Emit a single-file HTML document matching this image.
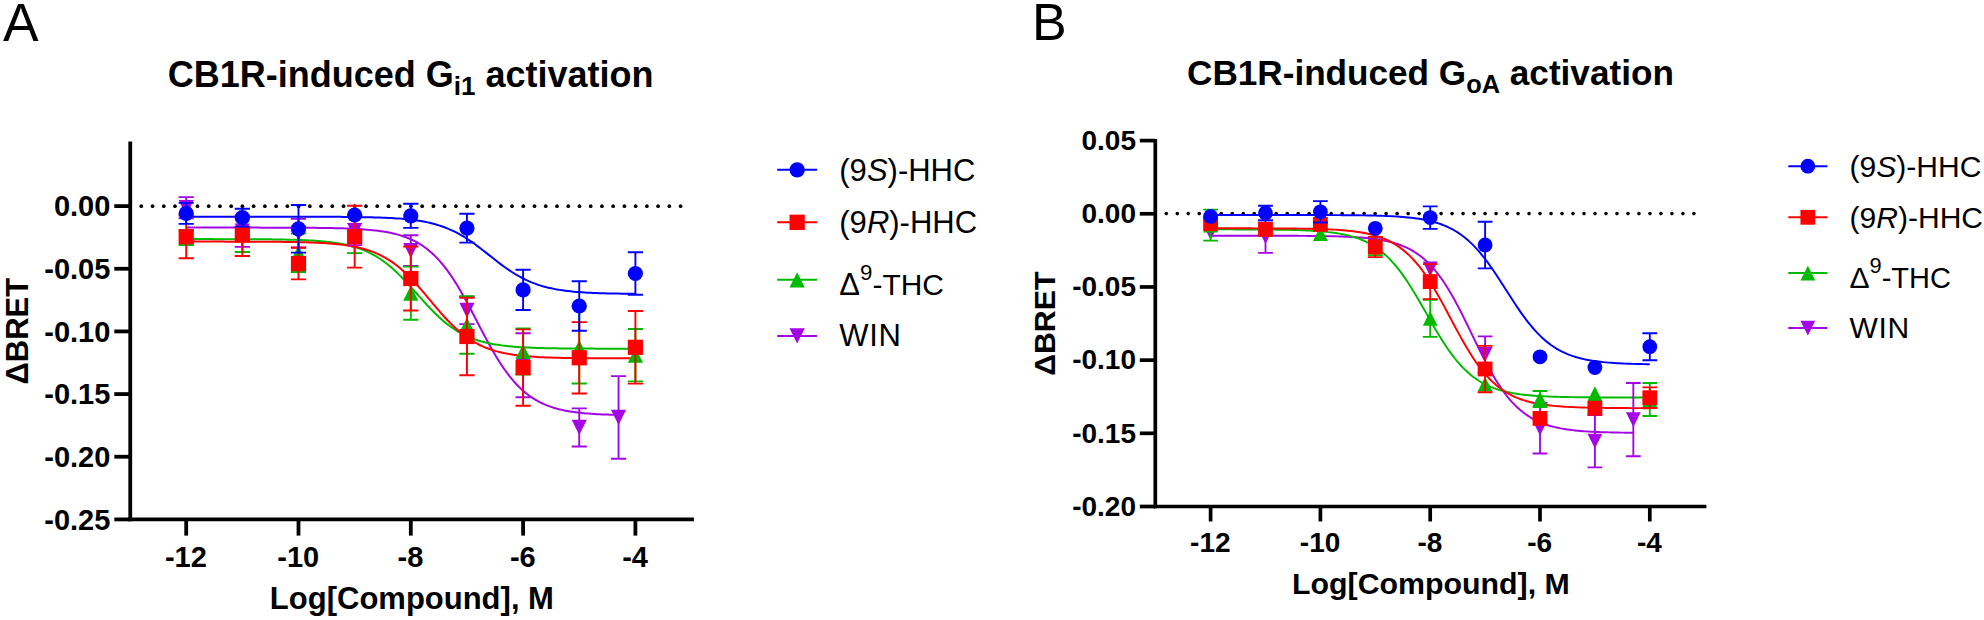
<!DOCTYPE html>
<html lang="en"><head><meta charset="utf-8"><title>CB1R-induced G protein activation</title>
<style>html,body{margin:0;padding:0;background:#fff}svg{display:block}text{font-family:'Liberation Sans', sans-serif;fill:#000}</style>
</head><body>
<svg width="1984" height="620" viewBox="0 0 1984 620">
<rect width="1984" height="620" fill="#fff"/>
<g fill="#000">
<circle cx="141.3" cy="206.15" r="1.85"/>
<circle cx="152.54" cy="206.15" r="1.85"/>
<circle cx="163.77" cy="206.15" r="1.85"/>
<circle cx="175" cy="206.15" r="1.85"/>
<circle cx="186.24" cy="206.15" r="1.85"/>
<circle cx="197.48" cy="206.15" r="1.85"/>
<circle cx="208.71" cy="206.15" r="1.85"/>
<circle cx="219.94" cy="206.15" r="1.85"/>
<circle cx="231.18" cy="206.15" r="1.85"/>
<circle cx="242.42" cy="206.15" r="1.85"/>
<circle cx="253.65" cy="206.15" r="1.85"/>
<circle cx="264.88" cy="206.15" r="1.85"/>
<circle cx="276.12" cy="206.15" r="1.85"/>
<circle cx="287.36" cy="206.15" r="1.85"/>
<circle cx="298.59" cy="206.15" r="1.85"/>
<circle cx="309.82" cy="206.15" r="1.85"/>
<circle cx="321.06" cy="206.15" r="1.85"/>
<circle cx="332.3" cy="206.15" r="1.85"/>
<circle cx="343.53" cy="206.15" r="1.85"/>
<circle cx="354.76" cy="206.15" r="1.85"/>
<circle cx="366" cy="206.15" r="1.85"/>
<circle cx="377.24" cy="206.15" r="1.85"/>
<circle cx="388.47" cy="206.15" r="1.85"/>
<circle cx="399.7" cy="206.15" r="1.85"/>
<circle cx="410.94" cy="206.15" r="1.85"/>
<circle cx="422.18" cy="206.15" r="1.85"/>
<circle cx="433.41" cy="206.15" r="1.85"/>
<circle cx="444.64" cy="206.15" r="1.85"/>
<circle cx="455.88" cy="206.15" r="1.85"/>
<circle cx="467.12" cy="206.15" r="1.85"/>
<circle cx="478.35" cy="206.15" r="1.85"/>
<circle cx="489.58" cy="206.15" r="1.85"/>
<circle cx="500.82" cy="206.15" r="1.85"/>
<circle cx="512.06" cy="206.15" r="1.85"/>
<circle cx="523.29" cy="206.15" r="1.85"/>
<circle cx="534.52" cy="206.15" r="1.85"/>
<circle cx="545.76" cy="206.15" r="1.85"/>
<circle cx="557" cy="206.15" r="1.85"/>
<circle cx="568.23" cy="206.15" r="1.85"/>
<circle cx="579.46" cy="206.15" r="1.85"/>
<circle cx="590.7" cy="206.15" r="1.85"/>
<circle cx="601.93" cy="206.15" r="1.85"/>
<circle cx="613.17" cy="206.15" r="1.85"/>
<circle cx="624.4" cy="206.15" r="1.85"/>
<circle cx="635.64" cy="206.15" r="1.85"/>
<circle cx="646.88" cy="206.15" r="1.85"/>
<circle cx="658.11" cy="206.15" r="1.85"/>
<circle cx="669.35" cy="206.15" r="1.85"/>
<circle cx="680.58" cy="206.15" r="1.85"/>
</g>
<polyline fill="none" stroke="#a305e4" stroke-width="2" stroke-linejoin="round" points="186.2,227.6 188.9,227.6 191.6,227.6 194.31,227.6 197.01,227.6 199.71,227.6 202.41,227.6 205.12,227.6 207.82,227.6 210.52,227.6 213.22,227.6 215.92,227.6 218.63,227.6 221.33,227.61 224.03,227.61 226.73,227.61 229.44,227.61 232.14,227.61 234.84,227.61 237.54,227.61 240.24,227.61 242.95,227.61 245.65,227.61 248.35,227.62 251.05,227.62 253.76,227.62 256.46,227.62 259.16,227.62 261.86,227.63 264.56,227.63 267.27,227.63 269.97,227.64 272.67,227.64 275.37,227.65 278.08,227.65 280.78,227.66 283.48,227.67 286.18,227.67 288.88,227.68 291.59,227.69 294.29,227.7 296.99,227.72 299.69,227.73 302.4,227.75 305.1,227.76 307.8,227.78 310.5,227.8 313.2,227.83 315.91,227.85 318.61,227.88 321.31,227.92 324.01,227.95 326.72,227.99 329.42,228.04 332.12,228.09 334.82,228.15 337.52,228.21 340.23,228.28 342.93,228.36 345.63,228.45 348.33,228.55 351.04,228.66 353.74,228.79 356.44,228.93 359.14,229.08 361.84,229.25 364.55,229.44 367.25,229.66 369.95,229.9 372.65,230.16 375.36,230.46 378.06,230.79 380.76,231.15 383.46,231.56 386.16,232.01 388.87,232.52 391.57,233.08 394.27,233.7 396.97,234.39 399.68,235.15 402.38,236 405.08,236.93 407.78,237.96 410.48,239.1 413.19,240.36 415.89,241.74 418.59,243.26 421.29,244.93 424,246.75 426.7,248.74 429.4,250.92 432.1,253.27 434.8,255.83 437.51,258.59 440.21,261.57 442.91,264.76 445.61,268.18 448.32,271.81 451.02,275.67 453.72,279.74 456.42,284.01 459.12,288.48 461.83,293.13 464.53,297.93 467.23,302.87 469.93,307.92 472.64,313.06 475.34,318.24 478.04,323.44 480.74,328.63 483.44,333.78 486.15,338.86 488.85,343.83 491.55,348.68 494.25,353.37 496.96,357.89 499.66,362.22 502.36,366.34 505.06,370.26 507.76,373.95 510.47,377.43 513.17,380.68 515.87,383.72 518.57,386.54 521.28,389.15 523.98,391.56 526.68,393.78 529.38,395.82 532.08,397.69 534.79,399.4 537.49,400.96 540.19,402.37 542.89,403.66 545.6,404.84 548.3,405.9 551,406.86 553.7,407.73 556.4,408.51 559.11,409.22 561.81,409.86 564.51,410.44 567.21,410.95 569.92,411.42 572.62,411.84 575.32,412.22 578.02,412.56 580.72,412.86 583.43,413.13 586.13,413.38 588.83,413.6 591.53,413.8 594.24,413.97 596.94,414.13 599.64,414.28 602.34,414.4 605.04,414.52 607.75,414.62 610.45,414.71 613.15,414.79 615.85,414.87 618.55,414.93"/>
<polyline fill="none" stroke="#00ba00" stroke-width="2" stroke-linejoin="round" points="186.2,239.11 189.01,239.11 191.81,239.11 194.62,239.11 197.43,239.11 200.24,239.12 203.05,239.12 205.85,239.12 208.66,239.12 211.47,239.12 214.28,239.13 217.08,239.13 219.89,239.13 222.7,239.14 225.5,239.14 228.31,239.15 231.12,239.15 233.93,239.16 236.74,239.17 239.54,239.18 242.35,239.19 245.16,239.2 247.96,239.21 250.77,239.22 253.58,239.23 256.39,239.25 259.2,239.27 262,239.29 264.81,239.31 267.62,239.34 270.43,239.37 273.23,239.4 276.04,239.44 278.85,239.48 281.65,239.52 284.46,239.58 287.27,239.63 290.08,239.7 292.88,239.77 295.69,239.85 298.5,239.94 301.31,240.05 304.12,240.16 306.92,240.29 309.73,240.43 312.54,240.59 315.35,240.77 318.15,240.97 320.96,241.2 323.77,241.45 326.58,241.73 329.38,242.04 332.19,242.39 335,242.77 337.8,243.2 340.61,243.68 343.42,244.22 346.23,244.81 349.04,245.47 351.84,246.19 354.65,246.99 357.46,247.88 360.26,248.86 363.07,249.93 365.88,251.11 368.69,252.39 371.5,253.8 374.3,255.33 377.11,256.98 379.92,258.77 382.73,260.7 385.53,262.77 388.34,264.97 391.15,267.32 393.95,269.8 396.76,272.4 399.57,275.13 402.38,277.97 405.19,280.9 407.99,283.92 410.8,287 413.61,290.12 416.41,293.27 419.22,296.42 422.03,299.56 424.84,302.66 427.64,305.7 430.45,308.67 433.26,311.55 436.07,314.32 438.88,316.98 441.68,319.51 444.49,321.9 447.3,324.17 450.11,326.29 452.91,328.27 455.72,330.12 458.53,331.83 461.34,333.41 464.14,334.86 466.95,336.19 469.76,337.41 472.56,338.53 475.37,339.54 478.18,340.46 480.99,341.3 483.8,342.05 486.6,342.74 489.41,343.35 492.22,343.91 495.02,344.41 497.83,344.86 500.64,345.26 503.45,345.63 506.25,345.95 509.06,346.25 511.87,346.51 514.68,346.74 517.49,346.95 520.29,347.14 523.1,347.31 525.91,347.46 528.71,347.59 531.52,347.71 534.33,347.82 537.14,347.91 539.94,348 542.75,348.07 545.56,348.14 548.37,348.2 551.17,348.26 553.98,348.3 556.79,348.35 559.6,348.38 562.4,348.42 565.21,348.45 568.02,348.48 570.83,348.5 573.63,348.52 576.44,348.54 579.25,348.56 582.06,348.57 584.87,348.59 587.67,348.6 590.48,348.61 593.29,348.62 596.1,348.63 598.9,348.64 601.71,348.64 604.52,348.65 607.33,348.66 610.13,348.66 612.94,348.66 615.75,348.67 618.55,348.67 621.36,348.67 624.17,348.68 626.98,348.68 629.79,348.68 632.59,348.68 635.4,348.69"/>
<polyline fill="none" stroke="#ff0000" stroke-width="2" stroke-linejoin="round" points="186.2,241.61 189.01,241.61 191.81,241.61 194.62,241.61 197.43,241.61 200.24,241.61 203.05,241.61 205.85,241.61 208.66,241.61 211.47,241.62 214.28,241.62 217.08,241.62 219.89,241.62 222.7,241.62 225.5,241.63 228.31,241.63 231.12,241.63 233.93,241.64 236.74,241.64 239.54,241.65 242.35,241.65 245.16,241.66 247.96,241.67 250.77,241.68 253.58,241.68 256.39,241.69 259.2,241.71 262,241.72 264.81,241.73 267.62,241.75 270.43,241.77 273.23,241.79 276.04,241.81 278.85,241.84 281.65,241.87 284.46,241.9 287.27,241.94 290.08,241.98 292.88,242.02 295.69,242.07 298.5,242.13 301.31,242.2 304.12,242.27 306.92,242.35 309.73,242.44 312.54,242.54 315.35,242.66 318.15,242.78 320.96,242.93 323.77,243.09 326.58,243.26 329.38,243.46 332.19,243.69 335,243.94 337.8,244.22 340.61,244.53 343.42,244.87 346.23,245.26 349.04,245.69 351.84,246.17 354.65,246.71 357.46,247.3 360.26,247.96 363.07,248.68 365.88,249.49 368.69,250.38 371.5,251.36 374.3,252.44 377.11,253.63 379.92,254.93 382.73,256.35 385.53,257.9 388.34,259.58 391.15,261.4 393.95,263.37 396.76,265.48 399.57,267.75 402.38,270.16 405.19,272.71 407.99,275.41 410.8,278.24 413.61,281.2 416.41,284.26 419.22,287.43 422.03,290.67 424.84,293.97 427.64,297.31 430.45,300.67 433.26,304.03 436.07,307.36 438.88,310.64 441.68,313.85 444.49,316.98 447.3,320 450.11,322.91 452.91,325.69 455.72,328.33 458.53,330.83 461.34,333.18 464.14,335.38 466.95,337.43 469.76,339.34 472.56,341.11 475.37,342.74 478.18,344.23 480.99,345.6 483.8,346.86 486.6,348 489.41,349.04 492.22,349.99 495.02,350.84 497.83,351.62 500.64,352.32 503.45,352.95 506.25,353.51 509.06,354.03 511.87,354.49 514.68,354.9 517.49,355.27 520.29,355.6 523.1,355.9 525.91,356.17 528.71,356.4 531.52,356.62 534.33,356.81 537.14,356.98 539.94,357.13 542.75,357.27 545.56,357.39 548.37,357.5 551.17,357.6 553.98,357.68 556.79,357.76 559.6,357.83 562.4,357.89 565.21,357.95 568.02,358 570.83,358.04 573.63,358.08 576.44,358.11 579.25,358.15 582.06,358.17 584.87,358.2 587.67,358.22 590.48,358.24 593.29,358.26 596.1,358.27 598.9,358.29 601.71,358.3 604.52,358.31 607.33,358.32 610.13,358.33 612.94,358.34 615.75,358.34 618.55,358.35 621.36,358.35 624.17,358.36 626.98,358.36 629.79,358.37 632.59,358.37 635.4,358.37"/>
<polyline fill="none" stroke="#0000ff" stroke-width="2" stroke-linejoin="round" points="186.2,216.7 189.01,216.7 191.81,216.7 194.62,216.7 197.43,216.7 200.24,216.7 203.05,216.7 205.85,216.7 208.66,216.7 211.47,216.7 214.28,216.7 217.08,216.7 219.89,216.7 222.7,216.7 225.5,216.7 228.31,216.7 231.12,216.7 233.93,216.7 236.74,216.7 239.54,216.7 242.35,216.7 245.16,216.7 247.96,216.7 250.77,216.7 253.58,216.7 256.39,216.71 259.2,216.71 262,216.71 264.81,216.71 267.62,216.71 270.43,216.71 273.23,216.71 276.04,216.71 278.85,216.71 281.65,216.72 284.46,216.72 287.27,216.72 290.08,216.72 292.88,216.72 295.69,216.73 298.5,216.73 301.31,216.73 304.12,216.74 306.92,216.74 309.73,216.75 312.54,216.75 315.35,216.76 318.15,216.77 320.96,216.78 323.77,216.79 326.58,216.8 329.38,216.81 332.19,216.82 335,216.84 337.8,216.85 340.61,216.87 343.42,216.89 346.23,216.92 349.04,216.94 351.84,216.97 354.65,217.01 357.46,217.04 360.26,217.09 363.07,217.13 365.88,217.18 368.69,217.24 371.5,217.31 374.3,217.38 377.11,217.47 379.92,217.56 382.73,217.66 385.53,217.78 388.34,217.91 391.15,218.05 393.95,218.21 396.76,218.39 399.57,218.59 402.38,218.82 405.19,219.07 407.99,219.35 410.8,219.66 413.61,220.01 416.41,220.39 419.22,220.82 422.03,221.29 424.84,221.81 427.64,222.39 430.45,223.03 433.26,223.73 436.07,224.5 438.88,225.34 441.68,226.27 444.49,227.28 447.3,228.37 450.11,229.56 452.91,230.84 455.72,232.22 458.53,233.7 461.34,235.27 464.14,236.94 466.95,238.71 469.76,240.57 472.56,242.51 475.37,244.52 478.18,246.6 480.99,248.74 483.8,250.92 486.6,253.13 489.41,255.35 492.22,257.57 495.02,259.78 497.83,261.96 500.64,264.1 503.45,266.18 506.25,268.19 509.06,270.13 511.87,271.99 514.68,273.76 517.49,275.43 520.29,277 523.1,278.48 525.91,279.86 528.71,281.14 531.52,282.33 534.33,283.42 537.14,284.43 539.94,285.36 542.75,286.2 545.56,286.97 548.37,287.67 551.17,288.31 553.98,288.89 556.79,289.41 559.6,289.88 562.4,290.31 565.21,290.69 568.02,291.04 570.83,291.35 573.63,291.63 576.44,291.88 579.25,292.11 582.06,292.31 584.87,292.49 587.67,292.65 590.48,292.79 593.29,292.92 596.1,293.04 598.9,293.14 601.71,293.23 604.52,293.32 607.33,293.39 610.13,293.46 612.94,293.52 615.75,293.57 618.55,293.61 621.36,293.66 624.17,293.69 626.98,293.73 629.79,293.76 632.59,293.78 635.4,293.81"/>
<g stroke="#a305e4" stroke-width="1.9" fill="none">
<path d="M186.2 197.1V218.3M178.6 197.1H193.8M178.6 218.3H193.8"/>
<path d="M242.35 215.5V246.9M234.75 215.5H249.95M234.75 246.9H249.95"/>
<path d="M298.5 218.9V247.5M290.9 218.9H306.1M290.9 247.5H306.1"/>
<path d="M354.65 216.1V245.1M347.05 216.1H362.25M347.05 245.1H362.25"/>
<path d="M410.8 235.2V266M403.2 235.2H418.4M403.2 266H418.4"/>
<path d="M466.95 296.7V324.1M459.35 296.7H474.55M459.35 324.1H474.55"/>
<path d="M523.1 333.3V397.3M515.5 333.3H530.7M515.5 397.3H530.7"/>
<path d="M579.25 408.35V446.45M571.65 408.35H586.85M571.65 446.45H586.85"/>
<path d="M618.55 376.1V458.7M610.95 376.1H626.15M610.95 458.7H626.15"/>
</g>
<polygon points="178.6,200.1 193.8,200.1 186.2,215.3" fill="#a305e4"/>
<polygon points="234.75,223.6 249.95,223.6 242.35,238.8" fill="#a305e4"/>
<polygon points="290.9,225.6 306.1,225.6 298.5,240.8" fill="#a305e4"/>
<polygon points="347.05,223 362.25,223 354.65,238.2" fill="#a305e4"/>
<polygon points="403.2,243 418.4,243 410.8,258.2" fill="#a305e4"/>
<polygon points="459.35,302.8 474.55,302.8 466.95,318" fill="#a305e4"/>
<polygon points="515.5,357.7 530.7,357.7 523.1,372.9" fill="#a305e4"/>
<polygon points="571.65,419.8 586.85,419.8 579.25,435" fill="#a305e4"/>
<polygon points="610.95,409.8 626.15,409.8 618.55,425" fill="#a305e4"/>
<g stroke="#00ba00" stroke-width="1.9" fill="none">
<path d="M186.2 230.3V245.1M178.6 230.3H193.8M178.6 245.1H193.8"/>
<path d="M242.35 216V252M234.75 216H249.95M234.75 252H249.95"/>
<path d="M298.5 233.6V272M290.9 233.6H306.1M290.9 272H306.1"/>
<path d="M354.65 215V253.1M347.05 215H362.25M347.05 253.1H362.25"/>
<path d="M410.8 266.6V319.8M403.2 266.6H418.4M403.2 319.8H418.4"/>
<path d="M466.95 296.2V353.8M459.35 296.2H474.55M459.35 353.8H474.55"/>
<path d="M523.1 328.5V374.5M515.5 328.5H530.7M515.5 374.5H530.7"/>
<path d="M579.25 306.5V383.5M571.65 306.5H586.85M571.65 383.5H586.85"/>
<path d="M635.4 329V381.4M627.8 329H643M627.8 381.4H643"/>
</g>
<polygon points="186.2,230.1 193.8,245.3 178.6,245.3" fill="#00ba00"/>
<polygon points="242.35,226.4 249.95,241.6 234.75,241.6" fill="#00ba00"/>
<polygon points="298.5,245.2 306.1,260.4 290.9,260.4" fill="#00ba00"/>
<polygon points="354.65,226.45 362.25,241.65 347.05,241.65" fill="#00ba00"/>
<polygon points="410.8,285.6 418.4,300.8 403.2,300.8" fill="#00ba00"/>
<polygon points="466.95,317.4 474.55,332.6 459.35,332.6" fill="#00ba00"/>
<polygon points="523.1,343.9 530.7,359.1 515.5,359.1" fill="#00ba00"/>
<polygon points="579.25,339.9 586.85,355.1 571.65,355.1" fill="#00ba00"/>
<polygon points="635.4,347.6 643,362.8 627.8,362.8" fill="#00ba00"/>
<g stroke="#ff0000" stroke-width="1.9" fill="none">
<path d="M186.2 215.2V258.2M178.6 215.2H193.8M178.6 258.2H193.8"/>
<path d="M242.35 217.7V256M234.75 217.7H249.95M234.75 256H249.95"/>
<path d="M298.5 247.8V279.4M290.9 247.8H306.1M290.9 279.4H306.1"/>
<path d="M354.65 205.8V267.6M347.05 205.8H362.25M347.05 267.6H362.25"/>
<path d="M410.8 246.5V310.5M403.2 246.5H418.4M403.2 310.5H418.4"/>
<path d="M466.95 297.8V375.2M459.35 297.8H474.55M459.35 375.2H474.55"/>
<path d="M523.1 329.4V405.8M515.5 329.4H530.7M515.5 405.8H530.7"/>
<path d="M579.25 322.1V393.5M571.65 322.1H586.85M571.65 393.5H586.85"/>
<path d="M635.4 311V383.6M627.8 311H643M627.8 383.6H643"/>
</g>
<rect x="178.6" y="229.1" width="15.2" height="15.2" fill="#ff0000"/>
<rect x="234.75" y="227.3" width="15.2" height="15.2" fill="#ff0000"/>
<rect x="290.9" y="256" width="15.2" height="15.2" fill="#ff0000"/>
<rect x="347.05" y="229.1" width="15.2" height="15.2" fill="#ff0000"/>
<rect x="403.2" y="270.9" width="15.2" height="15.2" fill="#ff0000"/>
<rect x="459.35" y="328.9" width="15.2" height="15.2" fill="#ff0000"/>
<rect x="515.5" y="360" width="15.2" height="15.2" fill="#ff0000"/>
<rect x="571.65" y="350.2" width="15.2" height="15.2" fill="#ff0000"/>
<rect x="627.8" y="339.7" width="15.2" height="15.2" fill="#ff0000"/>
<g stroke="#0000ff" stroke-width="1.9" fill="none">
<path d="M186.2 202.9V223.9M178.6 202.9H193.8M178.6 223.9H193.8"/>
<path d="M242.35 208.8V226.6M234.75 208.8H249.95M234.75 226.6H249.95"/>
<path d="M298.5 205V252.6M290.9 205H306.1M290.9 252.6H306.1"/>
<path d="M410.8 203.7V227.9M403.2 203.7H418.4M403.2 227.9H418.4"/>
<path d="M466.95 213.8V242.6M459.35 213.8H474.55M459.35 242.6H474.55"/>
<path d="M523.1 269.8V310M515.5 269.8H530.7M515.5 310H530.7"/>
<path d="M579.25 281.2V330.8M571.65 281.2H586.85M571.65 330.8H586.85"/>
<path d="M635.4 252.2V294.8M627.8 252.2H643M627.8 294.8H643"/>
</g>
<circle cx="186.2" cy="213.4" r="7.6" fill="#0000ff"/>
<circle cx="242.35" cy="217.7" r="7.6" fill="#0000ff"/>
<circle cx="298.5" cy="228.8" r="7.6" fill="#0000ff"/>
<circle cx="354.65" cy="215" r="7.6" fill="#0000ff"/>
<circle cx="410.8" cy="215.8" r="7.6" fill="#0000ff"/>
<circle cx="466.95" cy="228.2" r="7.6" fill="#0000ff"/>
<circle cx="523.1" cy="289.9" r="7.6" fill="#0000ff"/>
<circle cx="579.25" cy="306" r="7.6" fill="#0000ff"/>
<circle cx="635.4" cy="273.5" r="7.6" fill="#0000ff"/>
<g stroke="#000" stroke-width="3.8" fill="none" stroke-linecap="butt">
<path d="M130.25 141.4V521.3"/>
<path d="M128.35 519.4H693.9"/>
<path d="M114.3 206.1H130.25"/>
<path d="M114.3 268.76H130.25"/>
<path d="M114.3 331.42H130.25"/>
<path d="M114.3 394.08H130.25"/>
<path d="M114.3 456.74H130.25"/>
<path d="M114.3 519.4H130.25"/>
<path d="M186.2 519.4V535.6"/>
<path d="M298.5 519.4V535.6"/>
<path d="M410.8 519.4V535.6"/>
<path d="M523.1 519.4V535.6"/>
<path d="M635.4 519.4V535.6"/>
</g>
<g fill="#000">
<circle cx="1166.3" cy="213.6" r="1.8"/>
<circle cx="1177.29" cy="213.6" r="1.8"/>
<circle cx="1188.28" cy="213.6" r="1.8"/>
<circle cx="1199.28" cy="213.6" r="1.8"/>
<circle cx="1210.27" cy="213.6" r="1.8"/>
<circle cx="1221.26" cy="213.6" r="1.8"/>
<circle cx="1232.25" cy="213.6" r="1.8"/>
<circle cx="1243.24" cy="213.6" r="1.8"/>
<circle cx="1254.24" cy="213.6" r="1.8"/>
<circle cx="1265.23" cy="213.6" r="1.8"/>
<circle cx="1276.22" cy="213.6" r="1.8"/>
<circle cx="1287.21" cy="213.6" r="1.8"/>
<circle cx="1298.2" cy="213.6" r="1.8"/>
<circle cx="1309.2" cy="213.6" r="1.8"/>
<circle cx="1320.19" cy="213.6" r="1.8"/>
<circle cx="1331.18" cy="213.6" r="1.8"/>
<circle cx="1342.17" cy="213.6" r="1.8"/>
<circle cx="1353.16" cy="213.6" r="1.8"/>
<circle cx="1364.16" cy="213.6" r="1.8"/>
<circle cx="1375.15" cy="213.6" r="1.8"/>
<circle cx="1386.14" cy="213.6" r="1.8"/>
<circle cx="1397.13" cy="213.6" r="1.8"/>
<circle cx="1408.12" cy="213.6" r="1.8"/>
<circle cx="1419.12" cy="213.6" r="1.8"/>
<circle cx="1430.11" cy="213.6" r="1.8"/>
<circle cx="1441.1" cy="213.6" r="1.8"/>
<circle cx="1452.09" cy="213.6" r="1.8"/>
<circle cx="1463.08" cy="213.6" r="1.8"/>
<circle cx="1474.08" cy="213.6" r="1.8"/>
<circle cx="1485.07" cy="213.6" r="1.8"/>
<circle cx="1496.06" cy="213.6" r="1.8"/>
<circle cx="1507.05" cy="213.6" r="1.8"/>
<circle cx="1518.04" cy="213.6" r="1.8"/>
<circle cx="1529.04" cy="213.6" r="1.8"/>
<circle cx="1540.03" cy="213.6" r="1.8"/>
<circle cx="1551.02" cy="213.6" r="1.8"/>
<circle cx="1562.01" cy="213.6" r="1.8"/>
<circle cx="1573" cy="213.6" r="1.8"/>
<circle cx="1584" cy="213.6" r="1.8"/>
<circle cx="1594.99" cy="213.6" r="1.8"/>
<circle cx="1605.98" cy="213.6" r="1.8"/>
<circle cx="1616.97" cy="213.6" r="1.8"/>
<circle cx="1627.96" cy="213.6" r="1.8"/>
<circle cx="1638.96" cy="213.6" r="1.8"/>
<circle cx="1649.95" cy="213.6" r="1.8"/>
<circle cx="1660.94" cy="213.6" r="1.8"/>
<circle cx="1671.93" cy="213.6" r="1.8"/>
<circle cx="1682.92" cy="213.6" r="1.8"/>
<circle cx="1693.92" cy="213.6" r="1.8"/>
</g>
<polyline fill="none" stroke="#a305e4" stroke-width="1.95" stroke-linejoin="round" points="1210.6,235.7 1213.24,235.7 1215.88,235.7 1218.53,235.7 1221.17,235.71 1223.81,235.71 1226.45,235.71 1229.09,235.71 1231.74,235.71 1234.38,235.71 1237.02,235.71 1239.66,235.71 1242.3,235.71 1244.95,235.71 1247.59,235.72 1250.23,235.72 1252.87,235.72 1255.52,235.72 1258.16,235.73 1260.8,235.73 1263.44,235.73 1266.08,235.74 1268.73,235.74 1271.37,235.74 1274.01,235.75 1276.65,235.75 1279.29,235.76 1281.94,235.77 1284.58,235.78 1287.22,235.79 1289.86,235.8 1292.5,235.81 1295.15,235.82 1297.79,235.83 1300.43,235.85 1303.07,235.87 1305.71,235.89 1308.36,235.91 1311,235.93 1313.64,235.96 1316.28,235.99 1318.92,236.02 1321.57,236.06 1324.21,236.1 1326.85,236.15 1329.49,236.2 1332.13,236.26 1334.78,236.32 1337.42,236.4 1340.06,236.48 1342.7,236.57 1345.35,236.67 1347.99,236.78 1350.63,236.91 1353.27,237.05 1355.91,237.21 1358.56,237.38 1361.2,237.58 1363.84,237.8 1366.48,238.04 1369.12,238.31 1371.77,238.61 1374.41,238.95 1377.05,239.32 1379.69,239.74 1382.33,240.2 1384.98,240.71 1387.62,241.29 1390.26,241.92 1392.9,242.62 1395.54,243.4 1398.19,244.27 1400.83,245.22 1403.47,246.28 1406.11,247.44 1408.75,248.73 1411.4,250.14 1414.04,251.7 1416.68,253.4 1419.32,255.27 1421.97,257.31 1424.61,259.54 1427.25,261.96 1429.89,264.59 1432.53,267.43 1435.18,270.49 1437.82,273.78 1440.46,277.31 1443.1,281.06 1445.74,285.05 1448.39,289.26 1451.03,293.69 1453.67,298.33 1456.31,303.16 1458.95,308.16 1461.6,313.31 1464.24,318.59 1466.88,323.95 1469.52,329.39 1472.16,334.85 1474.81,340.31 1477.45,345.73 1480.09,351.08 1482.73,356.33 1485.37,361.46 1488.02,366.43 1490.66,371.23 1493.3,375.83 1495.94,380.22 1498.58,384.4 1501.23,388.34 1503.87,392.05 1506.51,395.53 1509.15,398.78 1511.8,401.8 1514.44,404.6 1517.08,407.19 1519.72,409.58 1522.36,411.77 1525.01,413.78 1527.65,415.62 1530.29,417.3 1532.93,418.83 1535.57,420.22 1538.22,421.48 1540.86,422.62 1543.5,423.66 1546.14,424.6 1548.78,425.45 1551.43,426.21 1554.07,426.9 1556.71,427.52 1559.35,428.08 1561.99,428.59 1564.64,429.04 1567.28,429.45 1569.92,429.82 1572.56,430.14 1575.2,430.44 1577.85,430.71 1580.49,430.94 1583.13,431.16 1585.77,431.35 1588.41,431.52 1591.06,431.68 1593.7,431.81 1596.34,431.94 1598.98,432.05 1601.63,432.15 1604.27,432.24 1606.91,432.32 1609.55,432.39 1612.19,432.45 1614.84,432.51 1617.48,432.56 1620.12,432.61 1622.76,432.65 1625.4,432.68 1628.05,432.72 1630.69,432.75 1633.33,432.77"/>
<polyline fill="none" stroke="#00ba00" stroke-width="1.95" stroke-linejoin="round" points="1210.6,229.37 1213.35,229.37 1216.09,229.37 1218.84,229.38 1221.58,229.38 1224.33,229.39 1227.07,229.39 1229.82,229.39 1232.56,229.4 1235.31,229.41 1238.05,229.41 1240.8,229.42 1243.54,229.43 1246.29,229.44 1249.03,229.45 1251.78,229.46 1254.52,229.47 1257.27,229.49 1260.01,229.51 1262.76,229.53 1265.5,229.55 1268.25,229.57 1270.99,229.6 1273.74,229.63 1276.48,229.66 1279.23,229.7 1281.97,229.74 1284.72,229.79 1287.46,229.84 1290.2,229.9 1292.95,229.97 1295.7,230.05 1298.44,230.13 1301.18,230.23 1303.93,230.33 1306.67,230.45 1309.42,230.59 1312.16,230.74 1314.91,230.9 1317.65,231.09 1320.4,231.3 1323.14,231.54 1325.89,231.8 1328.63,232.1 1331.38,232.42 1334.12,232.79 1336.87,233.2 1339.62,233.66 1342.36,234.17 1345.11,234.74 1347.85,235.37 1350.6,236.08 1353.34,236.86 1356.09,237.73 1358.83,238.7 1361.58,239.77 1364.32,240.95 1367.07,242.26 1369.81,243.7 1372.56,245.29 1375.3,247.03 1378.05,248.93 1380.79,251.02 1383.54,253.28 1386.28,255.75 1389.03,258.41 1391.77,261.28 1394.52,264.37 1397.26,267.67 1400.01,271.18 1402.75,274.9 1405.5,278.82 1408.24,282.94 1410.99,287.22 1413.73,291.67 1416.47,296.25 1419.22,300.93 1421.97,305.7 1424.71,310.52 1427.45,315.36 1430.2,320.19 1432.95,324.97 1435.69,329.67 1438.43,334.28 1441.18,338.75 1443.92,343.07 1446.67,347.22 1449.41,351.18 1452.16,354.94 1454.9,358.5 1457.65,361.84 1460.39,364.97 1463.14,367.88 1465.88,370.59 1468.63,373.09 1471.38,375.4 1474.12,377.51 1476.87,379.45 1479.61,381.23 1482.36,382.84 1485.1,384.31 1487.85,385.64 1490.59,386.85 1493.34,387.94 1496.08,388.93 1498.83,389.82 1501.57,390.62 1504.32,391.34 1507.06,391.99 1509.81,392.57 1512.55,393.09 1515.3,393.56 1518.04,393.98 1520.79,394.36 1523.53,394.69 1526.28,394.99 1529.02,395.26 1531.77,395.5 1534.51,395.72 1537.26,395.91 1540,396.08 1542.74,396.23 1545.49,396.37 1548.24,396.49 1550.98,396.6 1553.72,396.7 1556.47,396.79 1559.22,396.86 1561.96,396.93 1564.7,396.99 1567.45,397.05 1570.2,397.1 1572.94,397.14 1575.68,397.18 1578.43,397.21 1581.17,397.25 1583.92,397.27 1586.66,397.3 1589.41,397.32 1592.15,397.34 1594.9,397.36 1597.64,397.37 1600.39,397.39 1603.13,397.4 1605.88,397.41 1608.62,397.42 1611.37,397.43 1614.12,397.44 1616.86,397.44 1619.61,397.45 1622.35,397.45 1625.1,397.46 1627.84,397.46 1630.59,397.47 1633.33,397.47 1636.08,397.47 1638.82,397.48 1641.57,397.48 1644.31,397.48 1647.06,397.48 1649.8,397.49"/>
<polyline fill="none" stroke="#ff0000" stroke-width="1.95" stroke-linejoin="round" points="1210.6,228.31 1213.35,228.31 1216.09,228.31 1218.84,228.31 1221.58,228.31 1224.33,228.31 1227.07,228.32 1229.82,228.32 1232.56,228.32 1235.31,228.32 1238.05,228.32 1240.8,228.33 1243.54,228.33 1246.29,228.33 1249.03,228.34 1251.78,228.34 1254.52,228.35 1257.27,228.35 1260.01,228.36 1262.76,228.37 1265.5,228.38 1268.25,228.39 1270.99,228.4 1273.74,228.41 1276.48,228.42 1279.23,228.44 1281.97,228.45 1284.72,228.47 1287.46,228.49 1290.2,228.52 1292.95,228.54 1295.7,228.57 1298.44,228.6 1301.18,228.64 1303.93,228.68 1306.67,228.73 1309.42,228.78 1312.16,228.84 1314.91,228.91 1317.65,228.98 1320.4,229.06 1323.14,229.16 1325.89,229.26 1328.63,229.38 1331.38,229.51 1334.12,229.65 1336.87,229.82 1339.62,230 1342.36,230.21 1345.11,230.44 1347.85,230.69 1350.6,230.98 1353.34,231.3 1356.09,231.66 1358.83,232.07 1361.58,232.51 1364.32,233.02 1367.07,233.57 1369.81,234.2 1372.56,234.89 1375.3,235.66 1378.05,236.52 1380.79,237.47 1383.54,238.52 1386.28,239.69 1389.03,240.98 1391.77,242.41 1394.52,243.98 1397.26,245.71 1400.01,247.61 1402.75,249.68 1405.5,251.95 1408.24,254.42 1410.99,257.09 1413.73,259.99 1416.47,263.11 1419.22,266.45 1421.97,270.03 1424.71,273.83 1427.45,277.86 1430.2,282.09 1432.95,286.53 1435.69,291.16 1438.43,295.94 1441.18,300.87 1443.92,305.9 1446.67,311.02 1449.41,316.18 1452.16,321.36 1454.9,326.51 1457.65,331.61 1460.39,336.63 1463.14,341.53 1465.88,346.28 1468.63,350.87 1471.38,355.27 1474.12,359.47 1476.87,363.45 1479.61,367.21 1482.36,370.74 1485.1,374.04 1487.85,377.11 1490.59,379.96 1493.34,382.59 1496.08,385.02 1498.83,387.25 1501.57,389.29 1504.32,391.15 1507.06,392.84 1509.81,394.39 1512.55,395.78 1515.3,397.05 1518.04,398.2 1520.79,399.23 1523.53,400.16 1526.28,401 1529.02,401.76 1531.77,402.43 1534.51,403.04 1537.26,403.59 1540,404.08 1542.74,404.52 1545.49,404.91 1548.24,405.26 1550.98,405.58 1553.72,405.86 1556.47,406.11 1559.22,406.34 1561.96,406.54 1564.7,406.72 1567.45,406.88 1570.2,407.02 1572.94,407.15 1575.68,407.26 1578.43,407.36 1581.17,407.45 1583.92,407.53 1586.66,407.61 1589.41,407.67 1592.15,407.73 1594.9,407.78 1597.64,407.82 1600.39,407.87 1603.13,407.9 1605.88,407.93 1608.62,407.96 1611.37,407.99 1614.12,408.01 1616.86,408.03 1619.61,408.05 1622.35,408.07 1625.1,408.08 1627.84,408.09 1630.59,408.11 1633.33,408.12 1636.08,408.13 1638.82,408.13 1641.57,408.14 1644.31,408.15 1647.06,408.15 1649.8,408.16"/>
<polyline fill="none" stroke="#0000ff" stroke-width="1.95" stroke-linejoin="round" points="1210.6,215 1213.35,215 1216.09,215 1218.84,215 1221.58,215 1224.33,215 1227.07,215 1229.82,215 1232.56,215 1235.31,215 1238.05,215 1240.8,215 1243.54,215 1246.29,215 1249.03,215 1251.78,215 1254.52,215 1257.27,215 1260.01,215 1262.76,215.01 1265.5,215.01 1268.25,215.01 1270.99,215.01 1273.74,215.01 1276.48,215.01 1279.23,215.01 1281.97,215.01 1284.72,215.01 1287.46,215.02 1290.2,215.02 1292.95,215.02 1295.7,215.02 1298.44,215.02 1301.18,215.03 1303.93,215.03 1306.67,215.04 1309.42,215.04 1312.16,215.04 1314.91,215.05 1317.65,215.06 1320.4,215.06 1323.14,215.07 1325.89,215.08 1328.63,215.09 1331.38,215.1 1334.12,215.11 1336.87,215.12 1339.62,215.14 1342.36,215.16 1345.11,215.18 1347.85,215.2 1350.6,215.22 1353.34,215.25 1356.09,215.28 1358.83,215.31 1361.58,215.35 1364.32,215.39 1367.07,215.44 1369.81,215.49 1372.56,215.55 1375.3,215.62 1378.05,215.7 1380.79,215.78 1383.54,215.88 1386.28,215.98 1389.03,216.1 1391.77,216.23 1394.52,216.38 1397.26,216.55 1400.01,216.74 1402.75,216.95 1405.5,217.18 1408.24,217.44 1410.99,217.73 1413.73,218.06 1416.47,218.43 1419.22,218.83 1421.97,219.29 1424.71,219.79 1427.45,220.36 1430.2,220.99 1432.95,221.68 1435.69,222.46 1438.43,223.32 1441.18,224.27 1443.92,225.32 1446.67,226.49 1449.41,227.77 1452.16,229.18 1454.9,230.73 1457.65,232.42 1460.39,234.28 1463.14,236.29 1465.88,238.48 1468.63,240.85 1471.38,243.41 1474.12,246.15 1476.87,249.09 1479.61,252.21 1482.36,255.53 1485.1,259.02 1487.85,262.67 1490.59,266.49 1493.34,270.44 1496.08,274.52 1498.83,278.69 1501.57,282.93 1504.32,287.22 1507.06,291.52 1509.81,295.82 1512.55,300.07 1515.3,304.26 1518.04,308.35 1520.79,312.33 1523.53,316.17 1526.28,319.87 1529.02,323.39 1531.77,326.74 1534.51,329.9 1537.26,332.87 1540,335.66 1542.74,338.25 1545.49,340.66 1548.24,342.88 1550.98,344.93 1553.72,346.82 1556.47,348.54 1559.22,350.12 1561.96,351.56 1564.7,352.87 1567.45,354.05 1570.2,355.13 1572.94,356.1 1575.68,356.98 1578.43,357.77 1581.17,358.48 1583.92,359.12 1586.66,359.7 1589.41,360.21 1592.15,360.68 1594.9,361.1 1597.64,361.47 1600.39,361.8 1603.13,362.1 1605.88,362.37 1608.62,362.61 1611.37,362.82 1614.12,363.01 1616.86,363.18 1619.61,363.34 1622.35,363.47 1625.1,363.6 1627.84,363.7 1630.59,363.8 1633.33,363.89 1636.08,363.96 1638.82,364.03 1641.57,364.09 1644.31,364.15 1647.06,364.2 1649.8,364.24"/>
<g stroke="#a305e4" stroke-width="1.85" fill="none">
<path d="M1265.5 220.3V252.9M1258.1 220.3H1272.9M1258.1 252.9H1272.9"/>
<path d="M1485.1 336.3V372.7M1477.7 336.3H1492.5M1477.7 372.7H1492.5"/>
<path d="M1540 402.9V453.5M1532.6 402.9H1547.4M1532.6 453.5H1547.4"/>
<path d="M1594.9 415V467.4M1587.5 415H1602.3M1587.5 467.4H1602.3"/>
<path d="M1633.33 383V456.2M1625.93 383H1640.73M1625.93 456.2H1640.73"/>
</g>
<polygon points="1203.2,225.1 1218,225.1 1210.6,239.9" fill="#a305e4"/>
<polygon points="1258.1,229.2 1272.9,229.2 1265.5,244" fill="#a305e4"/>
<polygon points="1313,222.6 1327.8,222.6 1320.4,237.4" fill="#a305e4"/>
<polygon points="1367.9,238.6 1382.7,238.6 1375.3,253.4" fill="#a305e4"/>
<polygon points="1422.8,261.6 1437.6,261.6 1430.2,276.4" fill="#a305e4"/>
<polygon points="1477.7,347.1 1492.5,347.1 1485.1,361.9" fill="#a305e4"/>
<polygon points="1532.6,420.8 1547.4,420.8 1540,435.6" fill="#a305e4"/>
<polygon points="1587.5,433.8 1602.3,433.8 1594.9,448.6" fill="#a305e4"/>
<polygon points="1625.93,412.2 1640.73,412.2 1633.33,427" fill="#a305e4"/>
<g stroke="#00ba00" stroke-width="1.85" fill="none">
<path d="M1210.6 209.65V240.55M1203.2 209.65H1218M1203.2 240.55H1218"/>
<path d="M1375.3 236.9V255.1M1367.9 236.9H1382.7M1367.9 255.1H1382.7"/>
<path d="M1430.2 299.7V336.9M1422.8 299.7H1437.6M1422.8 336.9H1437.6"/>
<path d="M1540 391V407M1532.6 391H1547.4M1532.6 407H1547.4"/>
<path d="M1649.8 383V416M1642.4 383H1657.2M1642.4 416H1657.2"/>
</g>
<polygon points="1210.6,217.7 1218,232.5 1203.2,232.5" fill="#00ba00"/>
<polygon points="1265.5,221.6 1272.9,236.4 1258.1,236.4" fill="#00ba00"/>
<polygon points="1320.4,226.3 1327.8,241.1 1313,241.1" fill="#00ba00"/>
<polygon points="1375.3,238.6 1382.7,253.4 1367.9,253.4" fill="#00ba00"/>
<polygon points="1430.2,310.9 1437.6,325.7 1422.8,325.7" fill="#00ba00"/>
<polygon points="1485.1,376.7 1492.5,391.5 1477.7,391.5" fill="#00ba00"/>
<polygon points="1540,391.6 1547.4,406.4 1532.6,406.4" fill="#00ba00"/>
<polygon points="1594.9,386.2 1602.3,401 1587.5,401" fill="#00ba00"/>
<polygon points="1649.8,392.1 1657.2,406.9 1642.4,406.9" fill="#00ba00"/>
<g stroke="#ff0000" stroke-width="1.85" fill="none">
<path d="M1375.3 236.9V257.1M1367.9 236.9H1382.7M1367.9 257.1H1382.7"/>
<path d="M1430.2 264.1V299.1M1422.8 264.1H1437.6M1422.8 299.1H1437.6"/>
<path d="M1485.1 345.8V392.2M1477.7 345.8H1492.5M1477.7 392.2H1492.5"/>
<path d="M1649.8 387.4V408M1642.4 387.4H1657.2M1642.4 408H1657.2"/>
</g>
<rect x="1203.2" y="216.3" width="14.8" height="14.8" fill="#ff0000"/>
<rect x="1258.1" y="221.9" width="14.8" height="14.8" fill="#ff0000"/>
<rect x="1313" y="217" width="14.8" height="14.8" fill="#ff0000"/>
<rect x="1367.9" y="239.6" width="14.8" height="14.8" fill="#ff0000"/>
<rect x="1422.8" y="274.2" width="14.8" height="14.8" fill="#ff0000"/>
<rect x="1477.7" y="361.6" width="14.8" height="14.8" fill="#ff0000"/>
<rect x="1532.6" y="411" width="14.8" height="14.8" fill="#ff0000"/>
<rect x="1587.5" y="400.8" width="14.8" height="14.8" fill="#ff0000"/>
<rect x="1642.4" y="390.3" width="14.8" height="14.8" fill="#ff0000"/>
<g stroke="#0000ff" stroke-width="1.85" fill="none">
<path d="M1265.5 205.7V220.3M1258.1 205.7H1272.9M1258.1 220.3H1272.9"/>
<path d="M1320.4 201.15V222.45M1313 201.15H1327.8M1313 222.45H1327.8"/>
<path d="M1430.2 206.35V228.85M1422.8 206.35H1437.6M1422.8 228.85H1437.6"/>
<path d="M1485.1 221.7V268.3M1477.7 221.7H1492.5M1477.7 268.3H1492.5"/>
<path d="M1649.8 333.2V360.2M1642.4 333.2H1657.2M1642.4 360.2H1657.2"/>
</g>
<circle cx="1210.6" cy="216.4" r="7.4" fill="#0000ff"/>
<circle cx="1265.5" cy="213" r="7.4" fill="#0000ff"/>
<circle cx="1320.4" cy="211.8" r="7.4" fill="#0000ff"/>
<circle cx="1375.3" cy="228.3" r="7.4" fill="#0000ff"/>
<circle cx="1430.2" cy="217.6" r="7.4" fill="#0000ff"/>
<circle cx="1485.1" cy="245" r="7.4" fill="#0000ff"/>
<circle cx="1540" cy="356.8" r="7.4" fill="#0000ff"/>
<circle cx="1594.9" cy="367.5" r="7.4" fill="#0000ff"/>
<circle cx="1649.8" cy="346.7" r="7.4" fill="#0000ff"/>
<g stroke="#000" stroke-width="3.7" fill="none" stroke-linecap="butt">
<path d="M1155.3 138.9V508.35"/>
<path d="M1153.45 506.5H1706.4"/>
<path d="M1139.8 140.6H1155.3"/>
<path d="M1139.8 213.78H1155.3"/>
<path d="M1139.8 286.96H1155.3"/>
<path d="M1139.8 360.14H1155.3"/>
<path d="M1139.8 433.32H1155.3"/>
<path d="M1139.8 506.5H1155.3"/>
<path d="M1210.6 506.5V521.5"/>
<path d="M1320.4 506.5V521.5"/>
<path d="M1430.2 506.5V521.5"/>
<path d="M1540 506.5V521.5"/>
<path d="M1649.8 506.5V521.5"/>
</g>
<text x="3" y="40.7" font-size="53.4">A</text>
<text x="167.8" y="86.8" font-size="36" font-weight="bold">CB1R-induced G<tspan font-size="26" dy="8">i1</tspan><tspan dy="-8"> activation</tspan></text>
<text x="110.4" y="216.2" font-size="29" font-weight="bold" text-anchor="end">0.00</text>
<text x="110.4" y="278.86" font-size="29" font-weight="bold" text-anchor="end">-0.05</text>
<text x="110.4" y="341.52" font-size="29" font-weight="bold" text-anchor="end">-0.10</text>
<text x="110.4" y="404.18" font-size="29" font-weight="bold" text-anchor="end">-0.15</text>
<text x="110.4" y="466.84" font-size="29" font-weight="bold" text-anchor="end">-0.20</text>
<text x="110.4" y="529.5" font-size="29" font-weight="bold" text-anchor="end">-0.25</text>
<text x="185.9" y="566.8" font-size="29" font-weight="bold" text-anchor="middle">-12</text>
<text x="298.2" y="566.8" font-size="29" font-weight="bold" text-anchor="middle">-10</text>
<text x="410.5" y="566.8" font-size="29" font-weight="bold" text-anchor="middle">-8</text>
<text x="522.8" y="566.8" font-size="29" font-weight="bold" text-anchor="middle">-6</text>
<text x="635.1" y="566.8" font-size="29" font-weight="bold" text-anchor="middle">-4</text>
<text x="411.9" y="609" font-size="31" font-weight="bold" text-anchor="middle">Log[Compound], M</text>
<text transform="translate(28.2 331.2) rotate(-90)" font-size="31" font-weight="bold" text-anchor="middle">ΔBRET</text>
<text x="1032" y="40.4" font-size="52">B</text>
<text x="1187" y="85.2" font-size="35.15" font-weight="bold">CB1R-induced G<tspan font-size="25.4" dy="8">oA</tspan><tspan dy="-8"> activation</tspan></text>
<text x="1136" y="149.8" font-size="28" font-weight="bold" text-anchor="end">0.05</text>
<text x="1136" y="222.98" font-size="28" font-weight="bold" text-anchor="end">0.00</text>
<text x="1136" y="296.16" font-size="28" font-weight="bold" text-anchor="end">-0.05</text>
<text x="1136" y="369.34" font-size="28" font-weight="bold" text-anchor="end">-0.10</text>
<text x="1136" y="442.52" font-size="28" font-weight="bold" text-anchor="end">-0.15</text>
<text x="1136" y="515.7" font-size="28" font-weight="bold" text-anchor="end">-0.20</text>
<text x="1210.3" y="552.4" font-size="28" font-weight="bold" text-anchor="middle">-12</text>
<text x="1320.1" y="552.4" font-size="28" font-weight="bold" text-anchor="middle">-10</text>
<text x="1429.9" y="552.4" font-size="28" font-weight="bold" text-anchor="middle">-8</text>
<text x="1539.7" y="552.4" font-size="28" font-weight="bold" text-anchor="middle">-6</text>
<text x="1649.5" y="552.4" font-size="28" font-weight="bold" text-anchor="middle">-4</text>
<text x="1430.9" y="594" font-size="30.3" font-weight="bold" text-anchor="middle">Log[Compound], M</text>
<text transform="translate(1055 323.7) rotate(-90)" font-size="30.3" font-weight="bold" text-anchor="middle">ΔBRET</text>
<path d="M777.2 169.8H817.1" stroke="#0000ff" stroke-width="2"/>
<circle cx="797.15" cy="169.8" r="7.65" fill="#0000ff"/>
<text x="839.3" y="180.8" font-size="31">(9<tspan font-style="italic">S</tspan>)-HHC</text>
<path d="M777.2 222.3H817.1" stroke="#ff0000" stroke-width="2"/>
<rect x="789.5" y="214.65" width="15.3" height="15.3" fill="#ff0000"/>
<text x="839.3" y="233.4" font-size="31">(9<tspan font-style="italic">R</tspan>)-HHC</text>
<path d="M777.2 279.8H817.1" stroke="#00ba00" stroke-width="2"/>
<polygon points="797.15,272.15 804.8,287.45 789.5,287.45" fill="#00ba00"/>
<text x="839.3" y="295.3" font-size="31">Δ<tspan font-size="22.3" dy="-15.3">9</tspan><tspan dy="15.3" font-size="29.91">-THC</tspan></text>
<path d="M777.2 335.9H817.1" stroke="#a305e4" stroke-width="2"/>
<polygon points="789.5,328.25 804.8,328.25 797.15,343.55" fill="#a305e4"/>
<text x="839.3" y="345.6" font-size="31"><tspan letter-spacing="0.7">WIN</tspan></text>
<path d="M1788.3 166.15H1827.4" stroke="#0000ff" stroke-width="1.95"/>
<circle cx="1807.85" cy="166.15" r="7.4" fill="#0000ff"/>
<text x="1849.5" y="176.5" font-size="30.05">(9<tspan font-style="italic">S</tspan>)-HHC</text>
<path d="M1788.3 217.3H1827.4" stroke="#ff0000" stroke-width="1.95"/>
<rect x="1800.45" y="209.9" width="14.8" height="14.8" fill="#ff0000"/>
<text x="1849.5" y="228.1" font-size="30.05">(9<tspan font-style="italic">R</tspan>)-HHC</text>
<path d="M1788.3 273.05H1827.4" stroke="#00ba00" stroke-width="1.95"/>
<polygon points="1807.85,265.65 1815.25,280.45 1800.45,280.45" fill="#00ba00"/>
<text x="1849.5" y="288.4" font-size="30.05">Δ<tspan font-size="21.8" dy="-15">9</tspan><tspan dy="15" font-size="29">-THC</tspan></text>
<path d="M1788.3 328.05H1827.4" stroke="#a305e4" stroke-width="1.95"/>
<polygon points="1800.45,320.65 1815.25,320.65 1807.85,335.45" fill="#a305e4"/>
<text x="1849.5" y="337.5" font-size="30.05"><tspan letter-spacing="0.7">WIN</tspan></text>
</svg>
</body></html>
